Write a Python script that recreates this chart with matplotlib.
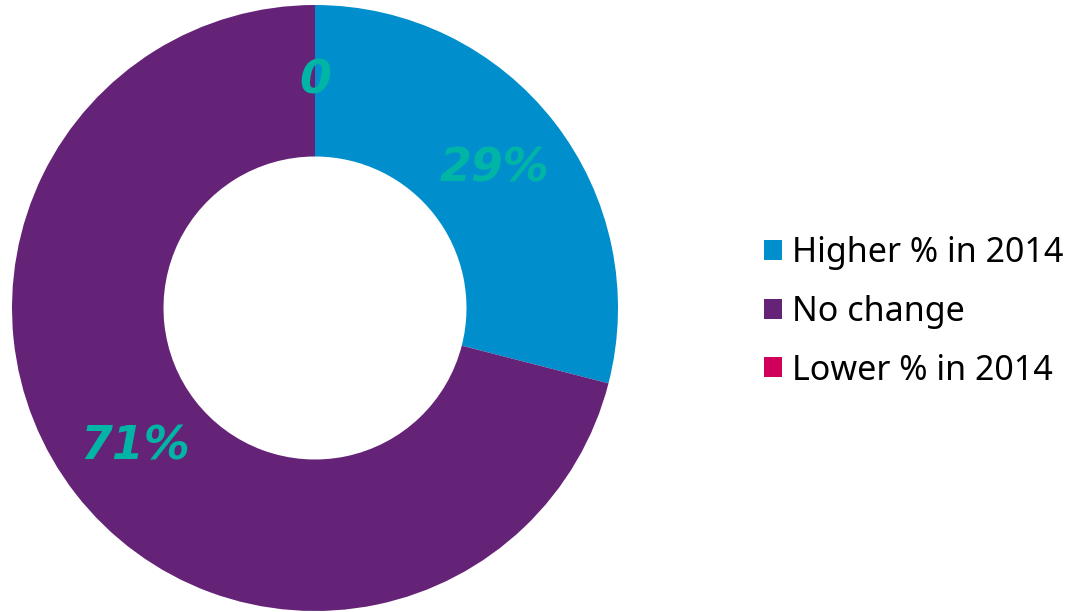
import matplotlib
matplotlib.use("Agg")
import matplotlib.pyplot as plt
import numpy as np

categories = ["Higher % in 2014", "No change", "Lower % in 2014"]
values = [29, 71, 0]
value_labels = ["29%", "71%", "0"]
colors = ["#008fcc", "#652377", "#d0005a"]

W, H = 1076, 612
fig = plt.figure(figsize=(W / 100, H / 100), dpi=100)

# donut centre (315, 308), radius 303 px
cx, cy, r = 315, 308, 303
ax = fig.add_axes([(cx - r) / W, (H - cy - r) / H, 2 * r / W, 2 * r / H])

wedges, _ = ax.pie(values, colors=colors, startangle=90, counterclock=False,
                   radius=1, wedgeprops=dict(width=0.5, linewidth=0))
ax.set_xlim(-1, 1)
ax.set_ylim(-1, 1)
ax.set_aspect("equal")
ax.axis("off")

# labels at the middle of each ring segment
total = sum(values)
start = 90.0
for v, lab in zip(values, value_labels):
    sweep = 360.0 * v / total
    mid = np.deg2rad(start - sweep / 2)
    ax.text(0.75 * np.cos(mid), 0.75 * np.sin(mid), lab, ha="center", va="center",
            color="#00b5a5", fontsize=33, fontweight="bold", style="italic",
            family="DejaVu Sans")
    start -= sweep

leg = fig.legend(wedges, categories, loc="center left",
                 bbox_to_anchor=(733 / W, 1 - 312 / H), frameon=False,
                 prop=dict(family="Noto Sans", size=24.5), borderpad=0.4,
                 handlelength=0.53, handleheight=0.53, handletextpad=0.3,
                 labelspacing=0.72)

fig.savefig("out.png", dpi=100)
